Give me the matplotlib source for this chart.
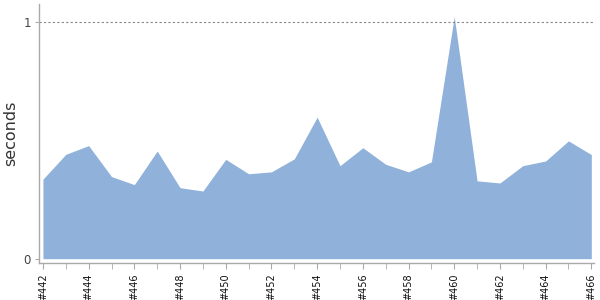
import numpy as np
import matplotlib.pyplot as plt

builds = list(range(442, 467))
seconds = [0.336, 0.441, 0.478, 0.347, 0.313, 0.455, 0.300, 0.286, 0.420, 0.359,
           0.367, 0.422, 0.598, 0.393, 0.469, 0.399, 0.367, 0.409, 1.023, 0.329,
           0.320, 0.393, 0.413, 0.498, 0.440]
tick_builds = builds[::2]
tick_labels = ["#%d" % b for b in tick_builds]

fig = plt.figure(figsize=(6, 3), dpi=100)
ax = fig.add_axes([0.0655, 0.122, 0.925, 0.865])

ax.fill_between(builds, 0, seconds, color="#8fb1da", linewidth=0)
ax.axhline(1, color="#888888", linestyle=(0, (2, 2)), linewidth=0.8)

ax.set_xlim(builds[0] - 0.16, builds[-1] + 0.13)
ax.set_ylim(-0.02, 1.077)

ax.set_xticks(tick_builds)
ax.set_xticklabels(tick_labels, rotation=90, fontsize=7, color="#111111")
ax.set_xticks(builds, minor=True)
ax.tick_params(axis="x", which="both", length=4, color="#aaaaaa", pad=3)

ax.set_yticks([0, 1])
ax.set_yticklabels(["0", "1"], fontsize=8.5, color="#444444")
ax.tick_params(axis="y", length=3, color="#aaaaaa", pad=3)

ax.set_ylabel("seconds", fontsize=11.5, color="#333333", labelpad=4)

for side in ["top", "right"]:
    ax.spines[side].set_visible(False)
for side in ["left", "bottom"]:
    ax.spines[side].set_color("#aaaaaa")
    ax.spines[side].set_linewidth(1)

fig.savefig("out.png", dpi=100)
